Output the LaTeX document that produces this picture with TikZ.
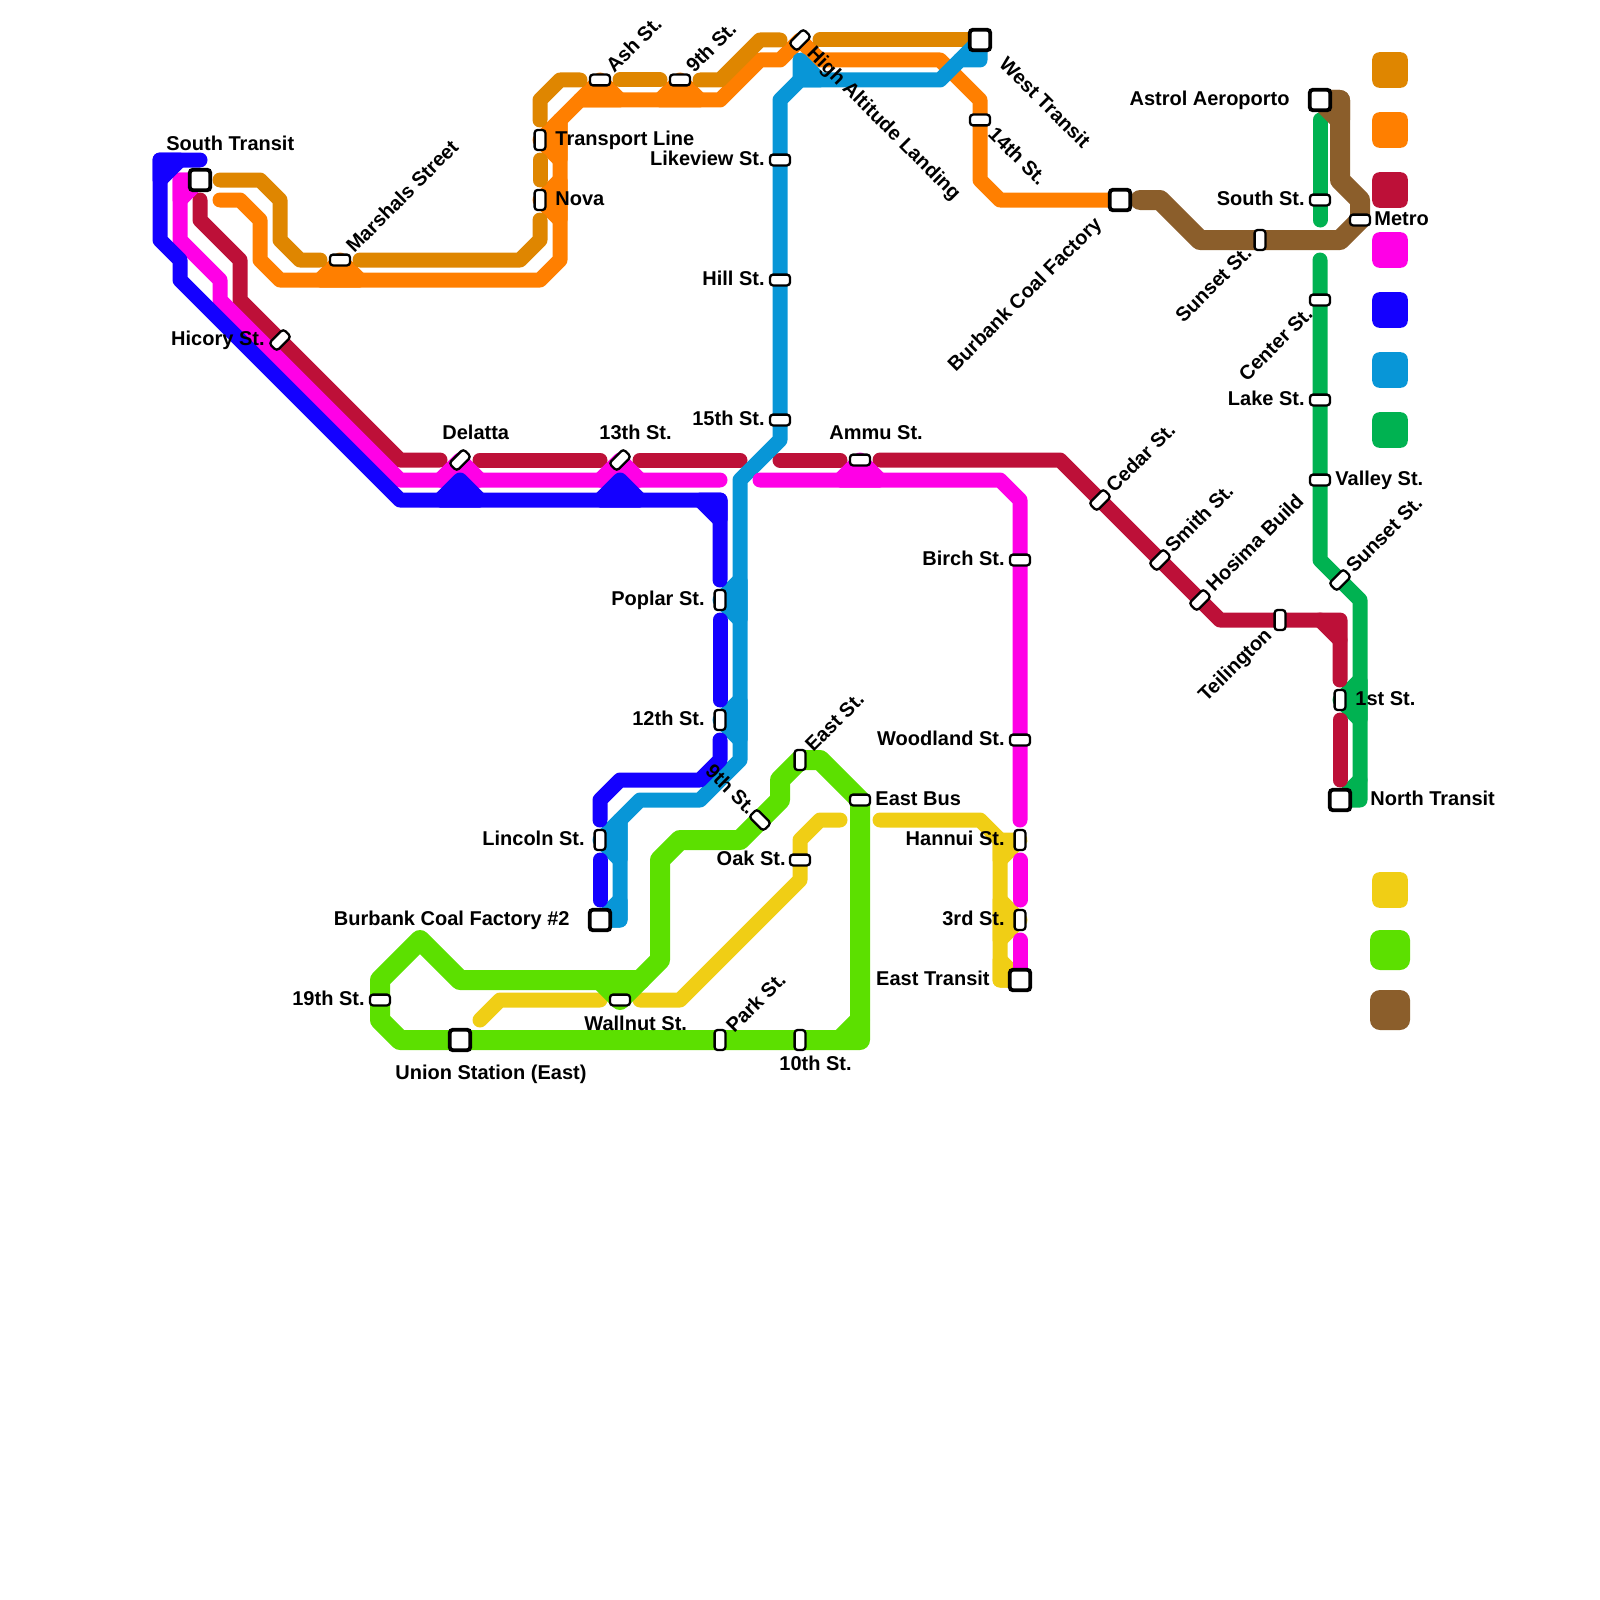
\documentclass[tikz,border=0pt]{standalone}
\usepackage{fontspec}
\setmainfont{Liberation Sans}
\definecolor{cDarkOrange}{HTML}{DF8600}
\definecolor{cOrange}{HTML}{FF7F00}
\definecolor{cCrimson}{HTML}{BD1038}
\definecolor{cMagenta}{HTML}{FF00E6}
\definecolor{cBlue}{HTML}{1400FF}
\definecolor{cSky}{HTML}{0896D7}
\definecolor{cGreen}{HTML}{00B251}
\definecolor{cYellow}{HTML}{F0CE15}
\definecolor{cLime}{HTML}{5CE000}
\definecolor{cBrown}{HTML}{8B5E2B}
\tikzset{
  route/.style={line width=7.5pt,line cap=round,line join=round},
  wideroute/.style={line width=10pt,line cap=round,line join=round},
  stn/.style={rectangle,draw=black,fill=white,line width=1.15pt,rounded corners=1.5pt,minimum width=10pt,minimum height=5.4pt,inner sep=0pt},
  stnv/.style={stn,rotate=90},
  stnd/.style={stn,rotate=45},
  stnb/.style={stn,rotate=-45},
  hub/.style={rectangle,draw=black,fill=white,line width=1.9pt,rounded corners=1.5pt,minimum size=10.2pt,inner sep=0pt},
  lbl/.style={font=\fontsize{10}{12}\selectfont\bfseries,inner sep=0pt,text height=7.2pt,text depth=0pt,text=black},
  lw/.style={lbl,anchor=west},
  le/.style={lbl,anchor=east},
  lwu/.style={lbl,anchor=west,rotate=45},
  leu/.style={lbl,anchor=east,rotate=45},
  lwd/.style={lbl,anchor=west,rotate=-45},
  led/.style={lbl,anchor=east,rotate=-45},
  swatch/.style={rectangle,minimum size=17.8pt,inner sep=0pt,rounded corners=3.6pt},
  swatchw/.style={rectangle,minimum size=20pt,inner sep=0pt,rounded corners=5pt}
}
\begin{document}
\begin{tikzpicture}[x=0.5pt,y=-0.5pt]
\useasboundingbox (0,0) rectangle (1600,1600);
% station positions
\coordinate (pSouthTransit) at (200,180);
\coordinate (pMarshals) at (340,260);
\coordinate (pHicory) at (280,340);
\coordinate (pDelatta) at (460,460);
\coordinate (p13th) at (620,460);
\coordinate (pAsh) at (600,80);
\coordinate (p9thN) at (680,80);
\coordinate (pTransport) at (540,140);
\coordinate (pNova) at (540,200);
\coordinate (pHigh) at (800,40);
\coordinate (pWest) at (980,40);
\coordinate (p14th) at (980,120);
\coordinate (pBurbank) at (1120,200);
\coordinate (pLikeview) at (780,160);
\coordinate (pHill) at (780,280);
\coordinate (p15th) at (780,420);
\coordinate (pAmmu) at (860,460);
\coordinate (pBirch) at (1020,560);
\coordinate (pWoodland) at (1020,740);
\coordinate (pHannui) at (1020,840);
\coordinate (p3rd) at (1020,920);
\coordinate (pEastTransit) at (1020,980);
\coordinate (pCedar) at (1100,500);
\coordinate (pSmith) at (1160,560);
\coordinate (pHosima) at (1200,600);
\coordinate (pTeilington) at (1280,620);
\coordinate (p1st) at (1340,700);
\coordinate (pNorth) at (1340,800);
\coordinate (pAstrol) at (1320,100);
\coordinate (pSouthSt) at (1320,200);
\coordinate (pMetro) at (1360,220);
\coordinate (pSunsetW) at (1260,240);
\coordinate (pCenter) at (1320,300);
\coordinate (pLake) at (1320,400);
\coordinate (pValley) at (1320,480);
\coordinate (pSunsetE) at (1340,580);
\coordinate (pPoplar) at (720,600);
\coordinate (p12th) at (720,720);
\coordinate (pLincoln) at (600,840);
\coordinate (pBurbankTwo) at (600,920);
\coordinate (p9thS) at (760,820);
\coordinate (pEastSt) at (800,760);
\coordinate (pEastBus) at (860,800);
\coordinate (pOak) at (800,860);
\coordinate (pWallnut) at (620,1000);
\coordinate (p19th) at (380,1000);
\coordinate (pUnion) at (460,1040);
\coordinate (pPark) at (720,1040);
\coordinate (p10th) at (800,1040);
% orange
\draw[route,cOrange] (220,200)--(240,200)--(260,220)--(260,260)--(280,280)--(540,280)--(560,260)--(560,120)--(580,100)--(720,100)--(760,60)--(780,60)--(pHigh)--(820,60)--(940,60)--(980,100)--(p14th)--(980,180)--(1000,200)--(pBurbank);
\draw[route,cOrange,fill=cOrange] (320,280)--(pMarshals)--(360,280)--cycle;
\draw[route,cOrange,fill=cOrange] (580,100)--(pAsh)--(620,100)--cycle;
\draw[route,cOrange,fill=cOrange] (660,100)--(p9thN)--(700,100)--cycle;
\draw[route,cOrange,fill=cOrange] (560,120)--(pTransport)--(560,160)--cycle;
\draw[route,cOrange,fill=cOrange] (560,180)--(pNova)--(560,220)--cycle;
% dark orange
\draw[route,cDarkOrange] (220,180)--(260,180)--(280,200)--(280,240)--(300,260)--(320,260);
\draw[route,cDarkOrange] (360,260)--(520,260)--(540,240)--(540,220);
\draw[route,cDarkOrange] (540,180)--(540,160);
\draw[route,cDarkOrange] (540,120)--(540,100)--(560,80)--(580,80);
\draw[route,cDarkOrange] (620,80)--(660,80);
\draw[route,cDarkOrange] (700,80)--(720,80)--(760,40)--(780,40);
\draw[route,cDarkOrange] (820,40)--(pWest);
% yellow
\draw[route,cYellow] (480,1020)--(500,1000)--(600,1000);
\draw[route,cYellow] (640,1000)--(680,1000)--(800,880)--(pOak)--(800,840)--(820,820)--(840,820);
\draw[route,cYellow] (880,820)--(980,820)--(1000,840)--(1000,980)--(pEastTransit);
\draw[route,cYellow,fill=cYellow] (1000,840)--(pHannui)--(1000,860)--cycle;
\draw[route,cYellow,fill=cYellow] (1000,900)--(p3rd)--(1000,940)--cycle;
\draw[route,cYellow,fill=cYellow] (1000,960)--(pEastTransit)--(1000,980)--cycle;
% lime
\draw[wideroute,cLime] (pEastBus)--(820,760)--(pEastSt)--(780,780)--(780,800)--(p9thS)--(740,840)--(680,840)--(660,860)--(660,960)--(640,980)--(460,980)--(420,940)--(380,980)--(p19th)--(380,1020)--(400,1040)--(pUnion)--(pPark)--(p10th)--(860,1040)--cycle;
\draw[wideroute,cLime] (840,1040)--(860,1020);
\draw[wideroute,cLime,fill=cLime] (600,980)--(pWallnut)--(640,980)--cycle;
% green
\draw[route,cGreen] (1320,120)--(pSouthSt)--(1320,220);
\draw[route,cGreen] (1320,260)--(pCenter)--(pLake)--(pValley)--(1320,560)--(pSunsetE)--(1360,600)--(1360,800)--(pNorth);
\draw[route,cGreen,fill=cGreen] (1360,680)--(p1st)--(1360,720)--cycle;
\draw[route,cGreen] (1360,780)--(pNorth);
% crimson
\draw[route,cCrimson] (200,200)--(200,220)--(240,260)--(240,300)--(pHicory)--(400,460)--(440,460);
\draw[route,cCrimson] (480,460)--(600,460);
\draw[route,cCrimson] (640,460)--(740,460);
\draw[route,cCrimson] (780,460)--(840,460);
\draw[route,cCrimson] (880,460)--(1060,460)--(pCedar)--(pSmith)--(pHosima)--(1220,620)--(pTeilington)--(1340,620)--(1340,680);
\draw[route,cCrimson] (1320,620)--(1340,640);
\draw[route,cCrimson] (1340,720)--(1340,780);
% brown
\draw[wideroute,cBrown] (pAstrol)--(1340,100)--(1340,180)--(1360,200)--(pMetro)--(1340,240)--(pSunsetW)--(1200,240)--(1160,200)--(1140,200);
\draw[wideroute,cBrown,fill=cBrown] (pAstrol)--(1340,100)--(1340,120)--cycle;
% sky
\draw[route,cSky] (pWest)--(980,60)--(960,60)--(940,80)--(800,80)--(780,100)--(pLikeview)--(pHill)--(p15th)--(780,440)--(740,480)--(740,760)--(700,800)--(640,800)--(620,820)--(620,920)--(pBurbankTwo);
\draw[route,cSky] (pWest)--(960,60);
\draw[route,cSky,fill=cSky] (800,80)--(800,60)--(820,80)--cycle;
\draw[route,cSky,fill=cSky] (740,580)--(pPoplar)--(740,620)--cycle;
\draw[route,cSky,fill=cSky] (740,700)--(p12th)--(740,740)--cycle;
\draw[route,cSky,fill=cSky] (620,820)--(pLincoln)--(620,860)--cycle;
\draw[route,cSky,fill=cSky] (620,900)--(pBurbankTwo)--(620,920)--cycle;
% magenta
\draw[route,cMagenta] (pSouthTransit)--(180,180)--(180,240)--(220,280)--(220,300)--(400,480)--(720,480);
\draw[route,cMagenta,fill=cMagenta] (pSouthTransit)--(180,180)--(180,200)--cycle;
\draw[route,cMagenta,fill=cMagenta] (440,480)--(pDelatta)--(480,480)--cycle;
\draw[route,cMagenta,fill=cMagenta] (600,480)--(p13th)--(640,480)--cycle;
\draw[route,cMagenta] (760,480)--(1000,480)--(1020,500)--(pBirch)--(pWoodland)--(1020,820);
\draw[route,cMagenta,fill=cMagenta] (840,480)--(pAmmu)--(880,480)--cycle;
\draw[route,cMagenta] (1020,860)--(1020,900);
\draw[route,cMagenta] (1020,940)--(pEastTransit);
% blue
\draw[route,cBlue] (200,160)--(160,160)--(160,240)--(180,260)--(180,280)--(400,500)--(720,500)--(720,580);
\draw[route,cBlue,fill=cBlue] (180,160)--(160,180)--(160,160)--cycle;
\draw[route,cBlue,fill=cBlue] (440,500)--(460,480)--(480,500)--cycle;
\draw[route,cBlue,fill=cBlue] (600,500)--(620,480)--(640,500)--cycle;
\draw[route,cBlue,fill=cBlue] (700,500)--(720,520)--(720,500)--cycle;
\draw[route,cBlue] (720,620)--(720,700);
\draw[route,cBlue] (720,740)--(720,760)--(700,780)--(620,780)--(600,800)--(600,820);
\draw[route,cBlue] (600,860)--(600,900);
% hubs
\node[hub] (hSouthTransit) at (pSouthTransit) {};
\node[hub] (hWest) at (pWest) {};
\node[hub] (hBurbank) at (pBurbank) {};
\node[hub] (hAstrol) at (pAstrol) {};
\node[hub] (hNorth) at (pNorth) {};
\node[hub] (hEastTransit) at (pEastTransit) {};
\node[hub] (hBurbankTwo) at (pBurbankTwo) {};
\node[hub] (hUnion) at (pUnion) {};
% stations
\node[stn] (sMarshals) at (pMarshals) {};
\node[stnd] (sHicory) at (pHicory) {};
\node[stnd] (sDelatta) at (pDelatta) {};
\node[stnd] (s13th) at (p13th) {};
\node[stn] (sAsh) at (pAsh) {};
\node[stn] (s9thN) at (p9thN) {};
\node[stnv] (sTransport) at (pTransport) {};
\node[stnv] (sNova) at (pNova) {};
\node[stnd] (sHigh) at (pHigh) {};
\node[stn] (s14th) at (p14th) {};
\node[stn] (sLikeview) at (pLikeview) {};
\node[stn] (sHill) at (pHill) {};
\node[stn] (s15th) at (p15th) {};
\node[stn] (sAmmu) at (pAmmu) {};
\node[stn] (sBirch) at (pBirch) {};
\node[stn] (sWoodland) at (pWoodland) {};
\node[stnv] (sHannui) at (pHannui) {};
\node[stnv] (s3rd) at (p3rd) {};
\node[stnd] (sCedar) at (pCedar) {};
\node[stnd] (sSmith) at (pSmith) {};
\node[stnd] (sHosima) at (pHosima) {};
\node[stnv] (sTeilington) at (pTeilington) {};
\node[stnv] (s1st) at (p1st) {};
\node[stn] (sSouthSt) at (pSouthSt) {};
\node[stn] (sMetro) at (pMetro) {};
\node[stnv] (sSunsetW) at (pSunsetW) {};
\node[stn] (sCenter) at (pCenter) {};
\node[stn] (sLake) at (pLake) {};
\node[stn] (sValley) at (pValley) {};
\node[stnd] (sSunsetE) at (pSunsetE) {};
\node[stnv] (sPoplar) at (pPoplar) {};
\node[stnv] (s12th) at (p12th) {};
\node[stnv] (sLincoln) at (pLincoln) {};
\node[stnb] (s9thS) at (p9thS) {};
\node[stnv] (sEastSt) at (pEastSt) {};
\node[stn] (sEastBus) at (pEastBus) {};
\node[stn] (sOak) at (pOak) {};
\node[stn] (sWallnut) at (pWallnut) {};
\node[stn] (s19th) at (p19th) {};
\node[stnv] (sPark) at (pPark) {};
\node[stnv] (s10th) at (p10th) {};
% labels
\node[lw] (tSouthTransit) at (166,143) {South Transit};
\node[lwu] (tMarshals) at (349,249) {Marshals Street};
\node[le] (tHicory) at (265,338) {Hicory St.};
\node[lw] (tDelatta) at (442,432) {Delatta};
\node[lw] (t13th) at (599,432) {13th St.};
\node[lwu] (tAsh) at (609,69) {Ash St.};
\node[lwu] (t9thN) at (689,69) {9th St.};
\node[lw] (tTransport) at (555,138) {Transport Line};
\node[lw] (tNova) at (555,198) {Nova};
\node[le] (tLikeview) at (765,158) {Likeview St.};
\node[le] (tHill) at (765,278) {Hill St.};
\node[le] (t15th) at (765,418) {15th St.};
\node[lwd] (tHigh) at (811,49) {High Altitude Landing};
\node[lwd] (tWest) at (1003,60) {West Transit};
\node[lwd] (t14th) at (992,130) {14th St.};
\node[leu] (tBurbank) at (1098,220) {Burbank Coal Factory};
\node[le] (tAstrol) at (1290,98) {Astrol Aeroporto};
\node[le] (tSouthSt) at (1305,198) {South St.};
\node[lw] (tMetro) at (1374,218) {Metro};
\node[leu] (tSunsetW) at (1248,249) {Sunset St.};
\node[leu] (tCenter) at (1309,310) {Center St.};
\node[le] (tLake) at (1305,398) {Lake St.};
\node[lw] (tValley) at (1335,478) {Valley St.};
\node[lwu] (tSunsetE) at (1349,569) {Sunset St.};
\node[lwu] (tCedar) at (1109,489) {Cedar St.};
\node[lwu] (tSmith) at (1168,549) {Smith St.};
\node[lwu] (tHosima) at (1209,588) {Hosima Build};
\node[leu] (tTeilington) at (1268,631) {Teilington};
\node[lw] (t1st) at (1355,698) {1st St.};
\node[lw] (tNorth) at (1370,798) {North Transit};
\node[le] (tPoplar) at (705,598) {Poplar St.};
\node[le] (t12th) at (705,718) {12th St.};
\node[le] (tBirch) at (1005,558) {Birch St.};
\node[le] (tWoodland) at (1005,738) {Woodland St.};
\node[le] (tHannui) at (1005,838) {Hannui St.};
\node[le] (t3rd) at (1005,918) {3rd St.};
\node[le] (tEastTransit) at (990,978) {East Transit};
\node[lw] (tAmmu) at (829,432) {Ammu St.};
\node[lwu] (tEastSt) at (808,748) {East St.};
\node[lw] (tEastBus) at (875,798) {East Bus};
\node[led] (t9thS) at (753,811) {9th St.};
\node[le] (tOak) at (786,858) {Oak St.};
\node[le] (tLincoln) at (585,838) {Lincoln St.};
\node[le] (tBurbankTwo) at (570,918) {Burbank Coal Factory \#2};
\node[le] (t19th) at (365,998) {19th St.};
\node[lw] (tWallnut) at (584,1023) {Wallnut St.};
\node[lwu] (tPark) at (729,1029) {Park St.};
\node[lw] (t10th) at (779,1063) {10th St.};
\node[lw] (tUnion) at (395,1072) {Union Station (East)};
% legend
\node[swatch,fill=cDarkOrange] (kDarkOrange) at (1390,70) {};
\node[swatch,fill=cOrange] (kOrange) at (1390,130) {};
\node[swatch,fill=cCrimson] (kCrimson) at (1390,190) {};
\node[swatch,fill=cMagenta] (kMagenta) at (1390,250) {};
\node[swatch,fill=cBlue] (kBlue) at (1390,310) {};
\node[swatch,fill=cSky] (kSky) at (1390,370) {};
\node[swatch,fill=cGreen] (kGreen) at (1390,430) {};
\node[swatch,fill=cYellow] (kYellow) at (1390,890) {};
\node[swatchw,fill=cLime] (kLime) at (1390,950) {};
\node[swatchw,fill=cBrown] (kBrown) at (1390,1010) {};
\end{tikzpicture}
\end{document}
